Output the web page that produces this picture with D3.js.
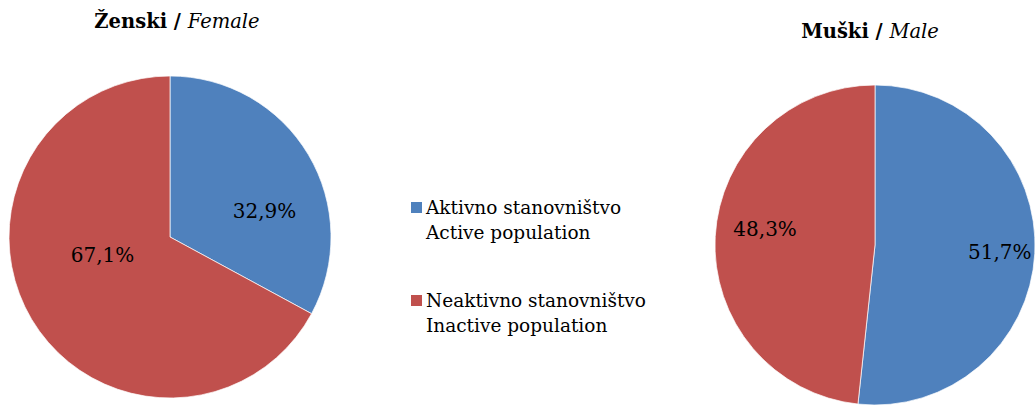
<!DOCTYPE html>
<html>
<head>
<meta charset="utf-8">
<script src="https://cdn.jsdelivr.net/npm/d3@7"></script>
<style>
  body { margin: 0; background: #fff; }
  text { font-family: "DejaVu Serif", serif; fill: #000; }
</style>
</head>
<body>
<div id="chart"></div>
<script>
// data
var categories = ["Aktivno stanovništvo", "Neaktivno stanovništvo"];
var categoriesEn = ["Active population", "Inactive population"];
var femaleValues = [32.9, 67.1];
var maleValues = [51.7, 48.3];
var colors = ["#4F81BD", "#C0504D"];

var width = 1035, height = 405;
var svg = d3.select("#chart")
            .append("svg")
            .attr("width", width)
            .attr("height", height);

var pie = d3.pie().sort(null).value(function(d){ return d; });
var fmt = function(v){ return v.toFixed(1).replace(".", ",") + "%"; };

// one pie per sex: center, radius, title and label placement
var charts = [
  { values: femaleValues, title: "Ženski", titleEn: "Female", cx: 170, cy: 237, r: 161,
    tx: 177, ty: 28, shift: [15.5, 15.5], lr: [98, 70] },
  { values: maleValues, title: "Muški", titleEn: "Male", cx: 875, cy: 245, r: 160,
    tx: 870, ty: 38, shift: [0, 5], lr: [125, 111] }
];

charts.forEach(function(c){
  var arc = d3.arc().innerRadius(0).outerRadius(c.r);
  var g = svg.append("g").attr("transform", "translate(" + c.cx + "," + c.cy + ")");
  var arcs = pie(c.values);
  g.selectAll("path")
   .data(arcs)
   .enter()
   .append("path")
     .attr("d", arc)
     .style("fill", function(d, i){ return colors[i]; })
     .style("stroke", "#fff")
     .style("stroke-width", 0.7);
  g.selectAll("text.lbl")
   .data(arcs)
   .enter()
   .append("text")
     .attr("class", "lbl")
     .attr("transform", function(d, i){
        var a = (d.startAngle + d.endAngle) / 2 + c.shift[i] * Math.PI / 180;
        var p = d3.pointRadial(a, c.lr[i]);
        return "translate(" + p[0] + "," + p[1] + ")";
     })
     .attr("dy", "0.35em")
     .attr("text-anchor", "middle")
     .style("font-size", "20px")
     .text(function(d){ return fmt(d.data); });

  var t = svg.append("text")
     .attr("x", c.tx)
     .attr("y", c.ty)
     .attr("text-anchor", "middle")
     .style("font-size", "19.5px");
  t.append("tspan").style("font-weight", "bold").text(c.title + " / ");
  t.append("tspan").style("font-style", "italic").text(c.titleEn);
});

// legend
var legend = svg.append("g").attr("transform", "translate(411, 0)");
var item = legend.selectAll("g")
   .data(categories)
   .enter()
   .append("g")
   .attr("transform", function(d, i){ return "translate(0," + (214 + i * 93) + ")"; });
item.append("rect")
   .attr("x", 0)
   .attr("y", -12)
   .attr("width", 11)
   .attr("height", 11)
   .style("fill", function(d, i){ return colors[i]; });
item.append("text")
   .attr("x", 15)
   .attr("y", 0)
   .style("font-size", "18.5px")
   .text(function(d){ return d; });
item.append("text")
   .attr("x", 15)
   .attr("y", 25)
   .style("font-size", "18.5px")
   .text(function(d, i){ return categoriesEn[i]; });
</script>
</body>
</html>
